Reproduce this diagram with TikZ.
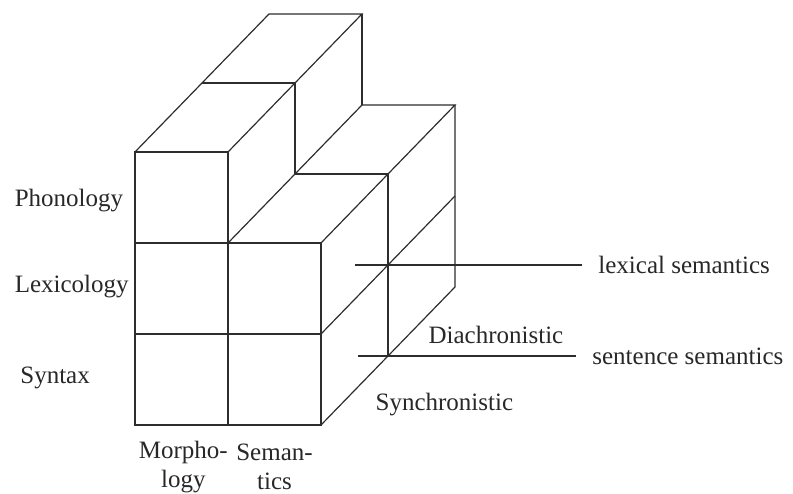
\documentclass[tikz,border=0pt]{standalone}
\usepackage{fontspec}
\setmainfont{Liberation Serif}
\usepackage{tikz}
\usetikzlibrary{positioning}
\definecolor{inkline}{RGB}{45,45,45}
\definecolor{inktext}{RGB}{40,40,40}
\tikzset{
  edge/.style={
    draw=inkline,
    line width=0.6pt,
    line join=miter
  },
  lbl/.style={
    text=inktext,
    inner sep=2pt,
    font=\fontsize{12.5}{14.5}\selectfont
  },
  pointer/.style={draw=inkline, line width=0.6pt, shorten >=6pt}
}
\begin{document}
\begin{tikzpicture}[x={(46.5pt,0pt)}, y={(0pt,45.5pt)}, z={(33.5pt,34.5pt)}]
  \useasboundingbox (-1.4516,-0.7473) rectangle (7.0753,4.6703);

  % front face
  \draw[edge] (0,0,0) rectangle (1,3,0);
  \draw[edge] (1,0,0) rectangle (2,2,0);
  \draw[edge] (0,1,0) -- (2,1,0);
  \draw[edge] (0,2,0) -- (1,2,0);

  % top of the tall column
  \draw[edge] (0,3,0) -- (0,3,2) -- (1,3,2) -- (1,3,0);
  \draw[edge] (0,3,1) -- (1,3,1);
  \draw[edge] (1,3,2) -- (1,2,2);
  \draw[edge] (1,3,1) -- (1,2,1);

  % top and side of the low column
  \draw[edge] (1,2,0) -- (1,2,2) -- (2,2,2) -- (2,2,0);
  \draw[edge] (1,2,1) -- (2,2,1);
  \draw[edge] (2,2,2) -- (2,0,2) -- (2,0,0);
  \draw[edge] (2,2,1) -- (2,0,1);
  \draw[edge] (2,1,0) -- (2,1,2);

  % level labels
  \node[lbl, anchor=west] (phon) at (-1.34,2.47) {Phonology};
  \node[lbl, anchor=west] (lexi) at (-1.34,1.52) {Lexicology};
  \node[lbl, anchor=west] (synt) at (-1.28,0.52) {Syntax};

  \node[lbl, align=center] (morph) at (0.52,-0.46) {Morpho-\\logy};
  \node[lbl, align=center] (sema) at (1.5,-0.46) {Seman-\\tics};

  \node[lbl, anchor=west] (dia) at (3.11,0.99) {Diachronistic};
  \node[lbl, anchor=west] (syn) at (2.54,0.23) {Synchronistic};

  % pointers
  \coordinate (lexstart) at ([xshift=-16.5pt]2,1,1);
  \coordinate (senstart) at ([xshift=-15pt]2,0,1);
  \node[lbl, anchor=west, right=119.5pt of lexstart] (lexsem) {lexical semantics};
  \node[lbl, anchor=west, right=115pt of senstart] (sensem) {sentence semantics};
  \draw[pointer] (lexstart) -- (lexsem);
  \draw[pointer] (senstart) -- (sensem);
\end{tikzpicture}
\end{document}
